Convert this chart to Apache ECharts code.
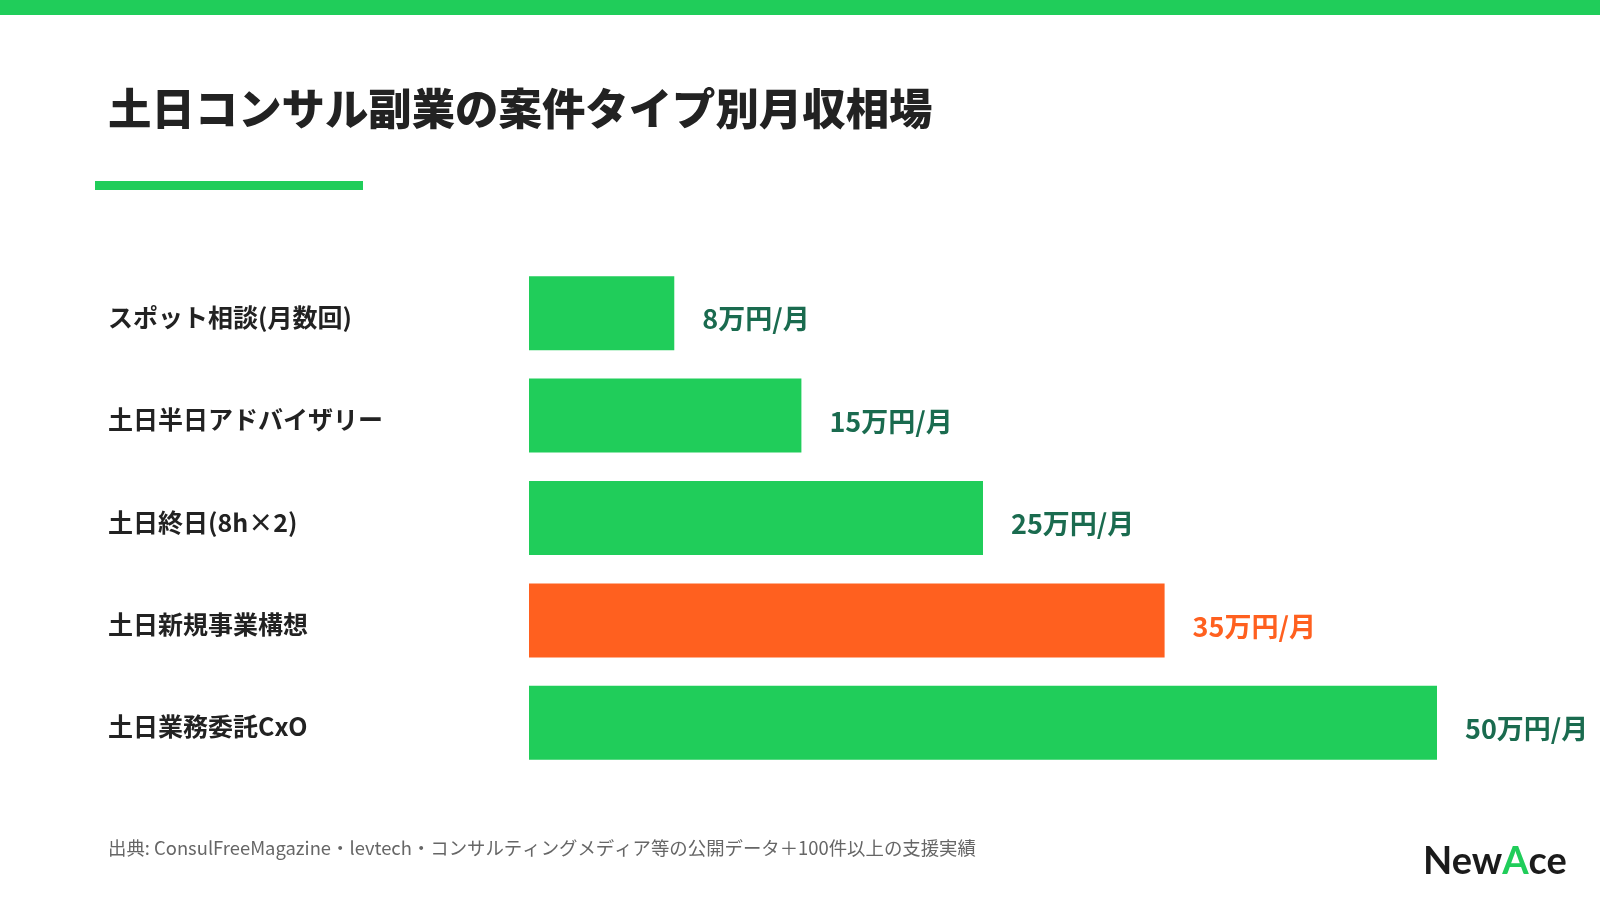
<!DOCTYPE html>
<html>
<head>
<meta charset="utf-8">
<title>土日コンサル副業の案件タイプ別月収相場</title>
<script src="https://cdn.jsdelivr.net/npm/echarts@6/dist/echarts.min.js"></script>
<style>
  html, body { margin: 0; padding: 0; background: #fff; }
  #main { width: 1600px; height: 903px; }
</style>
</head>
<body>
<div id="main"></div>
<script>
// 案件タイプ（上から順）
var categories = ['スポット相談(月数回)', '土日半日アドバイザリー', '土日終日(8h×2)', '土日新規事業構想', '土日業務委託CxO'];
// 月収（万円）
var values = [8, 15, 25, 35, 50];
// 強調する案件
var highlight = '土日新規事業構想';

var GREEN = '#20CD5A';
var ORANGE = '#FF601F';
var DARK = '#1A6B4F';
var FONT = '"Noto Sans CJK JP", "Noto Sans", sans-serif';

var myChart = echarts.init(document.getElementById('main'));

var barData = [];
for (var i = 0; i < values.length; i++) {
    var hot = categories[i] === highlight;
    barData.push({
        value: values[i],
        itemStyle: { color: hot ? ORANGE : GREEN },
        label: { color: hot ? ORANGE : DARK }
    });
}

var option = {
    backgroundColor: '#fff',
    animation: false,
    grid: { left: 529, width: 908, top: 262, height: 512 },
    xAxis: {
        type: 'value',
        min: 0,
        max: 50,
        show: false
    },
    yAxis: {
        type: 'category',
        data: categories,
        inverse: true,
        axisLine: { show: false },
        axisTick: { show: false },
        axisLabel: {
            align: 'left',
            margin: 421,
            formatter: function (v) {
                return '{t|' + v + '}';
            },
            rich: {
                t: {
                    padding: [8, 0, 0, 0],
                    fontFamily: FONT,
                    fontSize: 25,
                    fontWeight: 'bold',
                    color: '#222'
                }
            }
        }
    },
    series: [{
        type: 'bar',
        data: barData,
        barWidth: 74,
        label: {
            show: true,
            position: 'right',
            distance: 28,
            offset: [0, 6],
            fontFamily: FONT,
            fontSize: 27,
            fontWeight: 'bold',
            formatter: '{c}万円/月'
        }
    }],
    graphic: [
        { type: 'rect', left: 0, top: 0, shape: { width: 1600, height: 15 }, style: { fill: GREEN } },
        {
            type: 'text', left: 108, top: 87,
            style: { text: '土日コンサル副業の案件タイプ別月収相場', font: '900 43.4px ' + FONT, fill: '#222' }
        },
        { type: 'rect', left: 95, top: 181, shape: { width: 268, height: 9 }, style: { fill: GREEN } },
        {
            type: 'text', left: 108, top: 839,
            style: {
                text: '出典: ConsulFreeMagazine・levtech・コンサルティングメディア等の公開データ＋100件以上の支援実績',
                font: '18.4px ' + FONT, fill: '#666'
            }
        },
        {
            type: 'text', left: 1423, top: 843,
            style: {
                text: '{a|New}{b|A}{a|ce}',
                rich: {
                    a: { fontFamily: 'Lato, sans-serif', fontSize: 38, fontWeight: 'bold', fill: '#1b1b1b' },
                    b: { fontFamily: 'Lato, sans-serif', fontSize: 38, fontWeight: 'bold', fill: GREEN }
                }
            }
        }
    ]
};
myChart.setOption(option);
</script>
</body>
</html>
